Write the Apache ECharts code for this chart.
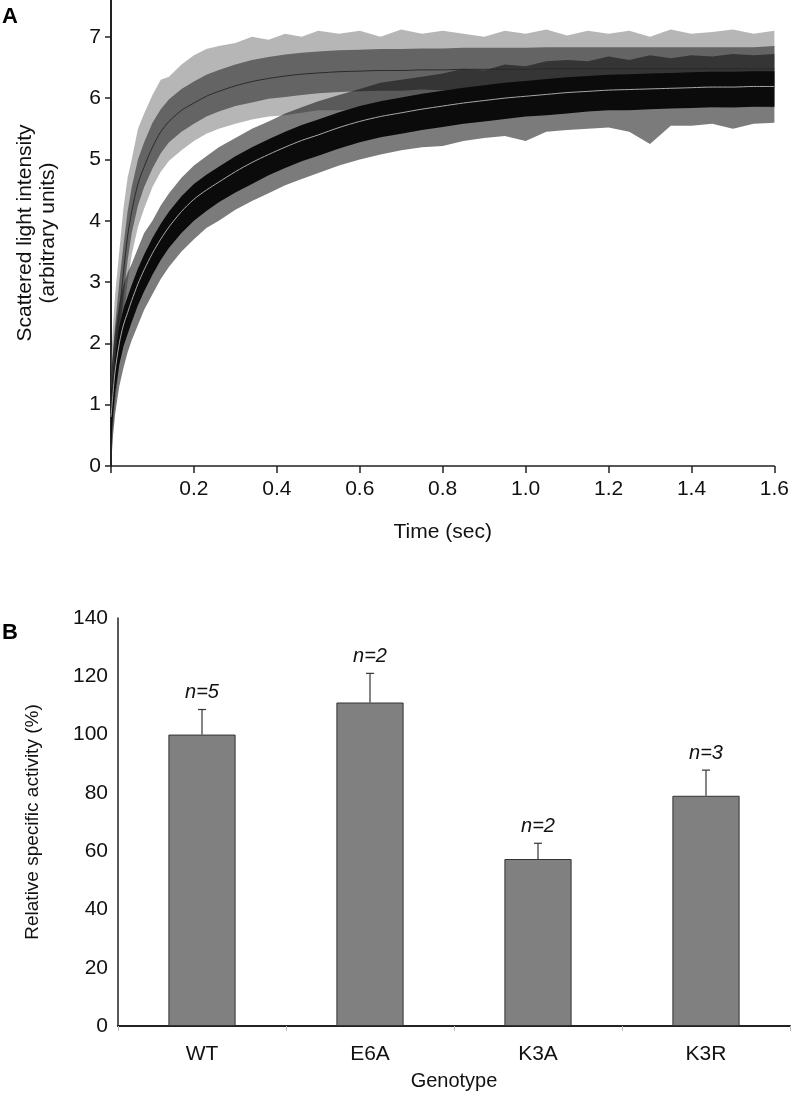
<!DOCTYPE html>
<html><head><meta charset="utf-8">
<script src="https://cdn.jsdelivr.net/npm/echarts@6/dist/echarts.min.js"></script>
<style>html,body{margin:0;padding:0;background:#fff}#c{width:792px;height:1096px}</style>
</head><body><div id="c"></div>
<script>
// ---------- Panel A data ----------
const T = [0,0.005,0.01,0.02,0.03,0.04,0.05,0.065,0.08,0.1,0.12,0.14,0.17,0.2,0.23,0.26,0.3,0.34,0.38,0.42,0.46,0.5,0.55,0.6,0.65,0.7,0.75,0.8,0.85,0.9,0.95,1.0,1.05,1.1,1.15,1.2,1.25,1.3,1.35,1.4,1.45,1.5,1.55,1.6];
const grayFit = [1.0,1.4,1.8,2.5,3.15,3.75,4.15,4.6,4.88,5.2,5.45,5.62,5.8,5.92,6.03,6.11,6.2,6.27,6.32,6.36,6.39,6.41,6.43,6.44,6.45,6.45,6.46,6.46,6.47,6.47,6.47,6.47,6.48,6.48,6.48,6.48,6.48,6.48,6.48,6.48,6.48,6.48,6.48,6.48];
const grayLo = [0.4,1.0,1.4,2.1,2.75,3.35,3.8,4.25,4.55,4.85,5.1,5.28,5.45,5.58,5.7,5.78,5.87,5.93,5.99,6.02,6.05,6.08,6.1,6.11,6.12,6.12,6.14,6.13,6.15,6.14,6.15,6.14,6.16,6.15,6.15,6.16,6.14,6.16,6.15,6.16,6.15,6.16,6.15,6.16];
const grayHi = [1.4,1.9,2.3,3.0,3.6,4.15,4.55,5.0,5.28,5.6,5.82,5.98,6.15,6.27,6.38,6.46,6.55,6.62,6.67,6.71,6.74,6.76,6.78,6.79,6.8,6.8,6.81,6.81,6.82,6.82,6.82,6.82,6.83,6.83,6.83,6.83,6.83,6.83,6.83,6.83,6.83,6.83,6.83,6.85];
const grayMax = [1.7,2.3,2.8,3.5,4.2,4.7,5.0,5.5,5.75,6.05,6.3,6.35,6.55,6.7,6.8,6.85,6.9,7.0,6.95,7.05,7.0,7.1,7.05,7.1,7.0,7.12,7.05,7.1,7.05,7.0,7.1,7.05,7.12,7.02,7.1,7.05,7.1,7.0,7.12,7.05,7.08,7.12,7.05,7.1];
const grayMin = [0.0,0.6,1.0,1.7,2.4,3.0,3.45,3.9,4.2,4.55,4.8,4.98,5.15,5.3,5.42,5.5,5.58,5.65,5.7,5.72,5.76,5.8,5.8,5.82,5.82,5.84,5.82,5.85,5.86,5.84,5.86,5.85,5.86,5.84,5.86,5.85,5.84,5.86,5.85,5.86,5.85,5.84,5.86,5.85];
const blackFit = [0.8,1.2,1.55,2.0,2.3,2.5,2.7,2.97,3.2,3.47,3.7,3.9,4.15,4.35,4.5,4.63,4.8,4.95,5.08,5.2,5.31,5.4,5.52,5.62,5.7,5.76,5.82,5.87,5.92,5.96,6.0,6.03,6.06,6.09,6.11,6.13,6.14,6.15,6.16,6.17,6.18,6.18,6.19,6.19];
const blackLo = [0.3,0.85,1.2,1.65,1.95,2.15,2.35,2.62,2.85,3.12,3.36,3.56,3.8,4.0,4.16,4.3,4.46,4.6,4.74,4.86,4.97,5.06,5.18,5.28,5.36,5.42,5.48,5.53,5.58,5.62,5.66,5.7,5.72,5.75,5.78,5.8,5.8,5.82,5.83,5.84,5.85,5.85,5.86,5.86];
const blackHi = [1.2,1.5,1.85,2.28,2.56,2.76,2.95,3.22,3.45,3.72,3.95,4.15,4.4,4.6,4.75,4.88,5.05,5.2,5.33,5.45,5.56,5.65,5.77,5.87,5.95,6.01,6.07,6.12,6.17,6.21,6.25,6.28,6.31,6.34,6.36,6.38,6.39,6.4,6.41,6.42,6.43,6.43,6.44,6.44];
const blackMax = [1.5,1.85,2.2,2.65,2.95,3.15,3.3,3.55,3.8,4.0,4.25,4.45,4.7,4.9,5.05,5.2,5.35,5.5,5.62,5.75,5.85,5.95,6.05,6.15,6.25,6.3,6.35,6.4,6.48,6.45,6.55,6.52,6.6,6.62,6.6,6.68,6.62,6.7,6.65,6.7,6.68,6.72,6.7,6.72];
const blackMin = [0.0,0.5,0.85,1.3,1.6,1.85,2.05,2.3,2.55,2.8,3.05,3.25,3.5,3.7,3.88,4.0,4.18,4.32,4.45,4.58,4.68,4.78,4.9,5.0,5.08,5.15,5.2,5.22,5.3,5.35,5.38,5.3,5.45,5.48,5.5,5.52,5.45,5.25,5.55,5.55,5.58,5.5,5.58,5.6];
const yTicksA = [0,1,2,3,4,5,6,7];

// ---------- Panel B data ----------
const genotypes = ['WT','E6A','K3A','K3R'];
const activity = [100,111,57.3,79];
const errorUp = [8.6,10,5.4,8.8];
const nLabels = ['n=5','n=2','n=2','n=3'];

const SANS = "'Liberation Sans',Arial,Helvetica,sans-serif";

// One polygon per band, built from the arrays through the axis scales.
function bandSeries(lo, hi, color, z) {
  return {
    type: 'custom', xAxisIndex: 0, yAxisIndex: 0, z: z, clip: false, silent: true,
    data: T.map((t, i) => [t, lo[i], hi[i]]),
    renderItem: function (params, api) {
      if (params.dataIndex !== 0) return null;
      const pts = [];
      for (let i = 0; i < T.length; i++) pts.push(api.coord([T[i], lo[i]]));
      for (let i = T.length - 1; i >= 0; i--) pts.push(api.coord([T[i], hi[i]]));
      return { type: 'polygon', shape: { points: pts }, style: { fill: color, stroke: null } };
    }
  };
}

const chart = echarts.init(document.getElementById('c'), null, { renderer: 'canvas' });
chart.setOption({
  animation: false,
  backgroundColor: '#fff',
  graphic: [
    { type: 'text', left: 2, top: 6, style: { text: 'A', font: 'bold 22px ' + SANS, fill: '#000' } },
    { type: 'text', left: 2, top: 622, style: { text: 'B', font: 'bold 22px ' + SANS, fill: '#000' } }
  ],
  grid: [
    { left: 111, top: 0, width: 664, height: 466 },
    { left: 118, top: 618, width: 672, height: 408 }
  ],
  xAxis: [
    {
      type: 'value', gridIndex: 0, min: 0, max: 1.6, interval: 0.2,
      axisLine: { lineStyle: { color: '#222', width: 1.5 } },
      axisTick: { show: true, length: 7, lineStyle: { color: '#222', width: 1.5 } },
      axisLabel: { fontFamily: SANS, fontSize: 21, color: '#111', margin: 13,
        formatter: v => (v === 0 ? '' : v.toFixed(1)) },
      splitLine: { show: false },
      name: 'Time (sec)', nameLocation: 'middle', nameGap: 56,
      nameTextStyle: { fontFamily: SANS, fontSize: 21, color: '#111' }
    },
    {
      type: 'category', gridIndex: 1, data: genotypes,
      axisLine: { lineStyle: { color: '#222', width: 2 } },
      axisTick: { show: true, length: 5, lineStyle: { color: '#bbb', width: 1 } },
      axisLabel: { fontFamily: SANS, fontSize: 21, color: '#111', margin: 18 },
      name: 'Genotype', nameLocation: 'middle', nameGap: 45,
      nameTextStyle: { fontFamily: SANS, fontSize: 20, color: '#111' }
    }
  ],
  yAxis: [
    {
      type: 'value', gridIndex: 0, min: 0, max: 7.6,
      axisLine: { show: true, lineStyle: { color: '#222', width: 2 } },
      axisTick: { show: true, length: 6, customValues: yTicksA, lineStyle: { color: '#222', width: 1.5 } },
      axisLabel: { customValues: yTicksA, fontFamily: SANS, fontSize: 21, color: '#111', margin: 10 },
      splitLine: { show: false },
      name: 'Scattered light intensity\n(arbitrary units)', nameLocation: 'middle', nameGap: 51,
      nameTextStyle: { fontFamily: SANS, fontSize: 21, color: '#111', lineHeight: 23 }
    },
    {
      type: 'value', gridIndex: 1, min: 0, max: 140, interval: 20,
      axisLine: { show: true, lineStyle: { color: '#222', width: 1.5 } },
      axisTick: { show: false },
      axisLabel: { fontFamily: SANS, fontSize: 21, color: '#111', margin: 10 },
      splitLine: { show: false },
      name: 'Relative specific activity (%)', nameLocation: 'middle', nameGap: 76,
      nameTextStyle: { fontFamily: SANS, fontSize: 19, color: '#111' }
    }
  ],
  series: [
    bandSeries(grayMin, grayMax, 'rgba(110,110,110,0.5)', 1),
    bandSeries(grayLo, grayHi, '#646464', 2),
    bandSeries(blackMin, blackMax, 'rgba(15,15,15,0.55)', 3),
    bandSeries(blackLo, blackHi, '#0b0b0b', 4),
    {
      type: 'line', xAxisIndex: 0, yAxisIndex: 0, z: 6, symbol: 'none', smooth: 0.3,
      data: T.map((t, i) => [t, grayFit[i]]),
      lineStyle: { color: '#2a2a2a', width: 1 }
    },
    {
      type: 'line', xAxisIndex: 0, yAxisIndex: 0, z: 6, symbol: 'none', smooth: 0.3,
      data: T.map((t, i) => [t, blackFit[i]]),
      lineStyle: { color: '#a8a8a8', width: 1 }
    },
    {
      type: 'bar', xAxisIndex: 1, yAxisIndex: 1, data: activity, barWidth: '40%',
      itemStyle: { color: '#808080', borderColor: '#333', borderWidth: 1 }
    },
    {
      type: 'custom', xAxisIndex: 1, yAxisIndex: 1, z: 5,
      data: genotypes.map((g, i) => [i, activity[i], errorUp[i]]),
      renderItem: function (params, api) {
        const i = api.value(0), v = api.value(1), e = api.value(2);
        const base = api.coord([i, v]);
        const top = api.coord([i, v + e]);
        const cap = 4;
        return {
          type: 'group', children: [
            { type: 'line', shape: { x1: top[0], y1: base[1], x2: top[0], y2: top[1] }, style: { stroke: '#333', lineWidth: 1.2 } },
            { type: 'line', shape: { x1: top[0] - cap, y1: top[1], x2: top[0] + cap, y2: top[1] }, style: { stroke: '#333', lineWidth: 1.2 } },
            { type: 'text', x: top[0], y: top[1] - 17, style: { text: nLabels[params.dataIndex], font: 'italic 20px ' + SANS, fill: '#111', align: 'center', verticalAlign: 'middle' } }
          ]
        };
      }
    }
  ]
});
</script></body></html>
